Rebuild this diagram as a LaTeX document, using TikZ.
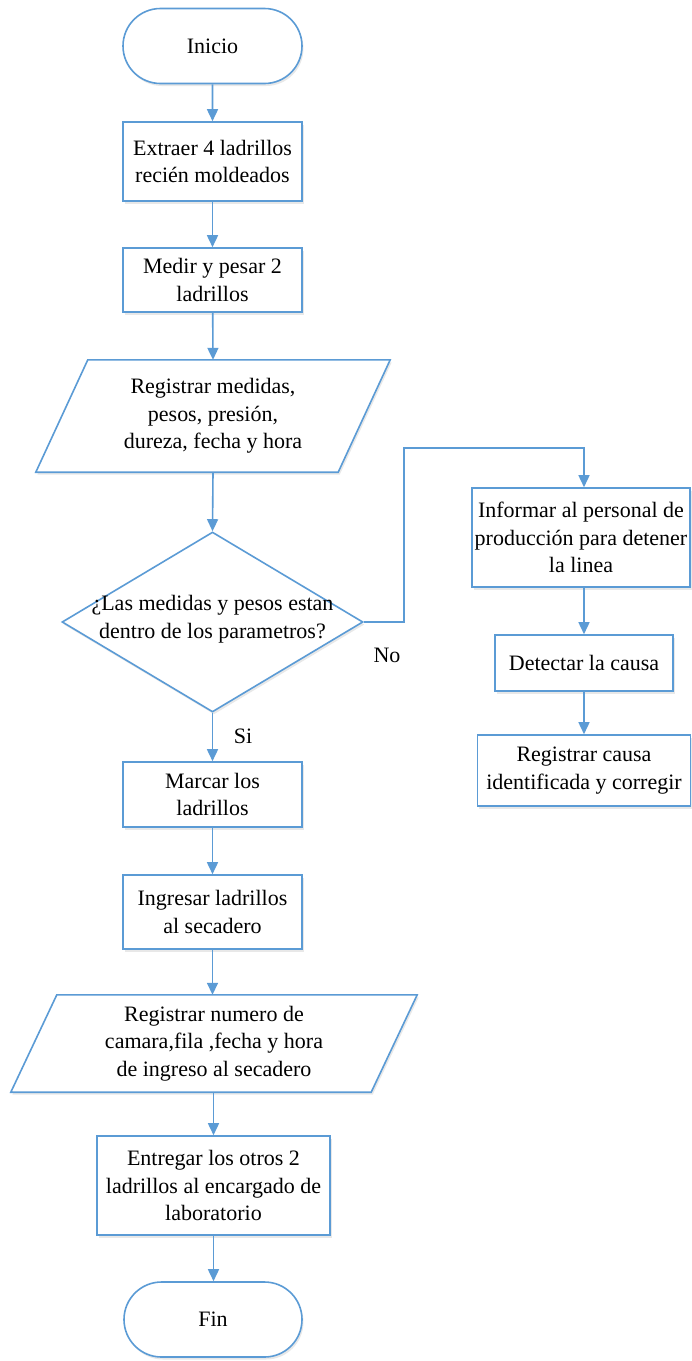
\documentclass[tikz,border=0pt]{standalone}
\usepackage{fontspec}
\setmainfont{Liberation Serif}
\usetikzlibrary{arrows.meta,shapes.geometric,shapes.misc,shadows}
\definecolor{flowblue}{HTML}{5B9BD5}
\tikzset{
  soft shadow/.style={drop shadow={shadow xshift=1.5pt,shadow yshift=-2.5pt,opacity=0.18,fill=gray}},
  terminal/.style={rounded rectangle,draw=flowblue,line width=1.6pt,fill=white,soft shadow,
    inner sep=0pt,align=center},
  procbox/.style={rectangle,draw=flowblue,line width=1.6pt,fill=white,soft shadow,
    inner sep=0pt,align=center},
  iobox/.style={rectangle,inner sep=0pt,align=center},
  iooutline/.style={draw=flowblue,line width=1.6pt,fill=white,soft shadow,line join=miter},
  decision/.style={diamond,draw=flowblue,line width=1.6pt,fill=white,soft shadow,inner sep=0pt},
  flow/.style={draw=flowblue,line width=1.6pt,-{Triangle[length=12pt,width=11pt]}},
  lbl/.style={inner sep=0pt}
}
\begin{document}
\begin{tikzpicture}[x=1pt,y=-1pt,font=\fontsize{22}{27.5}\selectfont]
\useasboundingbox (0,0) rectangle (692,1361);

% main column
\node[terminal,minimum width=179pt,minimum height=75pt] (ini) at (212.5,46) {Inicio};
\node[procbox,minimum width=179pt,minimum height=79pt] (ext) at (212.5,161.5)
  {Extraer 4 ladrillos\\recién moldeados};
\node[procbox,minimum width=179pt,minimum height=64pt] (med) at (212.5,280)
  {Medir y pesar 2\\ladrillos};

% data record 1 (parallelogram outline around a plain node)
\node[iobox,minimum width=302pt,minimum height=112pt] (reg1) at (213,416) {};
\path[iooutline] ([xshift=26pt]reg1.north west) -- ([xshift=26pt]reg1.north east)
  -- ([xshift=-26pt]reg1.south east) -- ([xshift=-26pt]reg1.south west) -- cycle;
\node[lbl,align=center] (reg1t) at (reg1.center)
  {Registrar medidas,\\pesos, presión,\\dureza, fecha y hora};

% decision
\node[decision,minimum width=301pt,minimum height=180pt] (dec) at (212.5,622) {};
\node[lbl,align=center] (dect) at ([yshift=3pt]dec.center)
  {¿Las medidas y pesos estan\\dentro de los parametros?};

\node[procbox,minimum width=179pt,minimum height=65pt] (mar) at (212.5,794.5)
  {Marcar los\\ladrillos};
\node[procbox,minimum width=179pt,minimum height=74pt] (ing) at (212.5,912)
  {Ingresar ladrillos\\al secadero};

% data record 2
\node[iobox,minimum width=360pt,minimum height=97pt] (reg2) at (214,1043.5) {};
\path[iooutline] ([xshift=23pt]reg2.north west) -- ([xshift=23pt]reg2.north east)
  -- ([xshift=-23pt]reg2.south east) -- ([xshift=-23pt]reg2.south west) -- cycle;
\node[lbl,align=center] (reg2t) at (reg2.center)
  {Registrar numero de\\camara,fila ,fecha y hora\\de ingreso al secadero};

\node[procbox,minimum width=233pt,minimum height=99pt] (ent) at (213.5,1185.5)
  {Entregar los otros 2\\ladrillos al encargado de\\laboratorio};
\node[terminal,minimum width=178pt,minimum height=75pt] (fin) at (213,1319.5) {Fin};

% side branch
\node[procbox,minimum width=218pt,minimum height=99pt] (inf) at (581,537.5)
  {Informar al personal de\\producción para detener\\la linea};
\node[procbox,minimum width=178pt,minimum height=56pt] (det) at (584,663)
  {Detectar la causa};
\node[procbox,minimum width=213pt,minimum height=71pt] (cau) at (584,770.5)
  {Registrar causa\\identificada y corregir};

% labels
\node[lbl] (si) at (243,736) {Si};
\node[lbl] (no) at (387,655) {No};

% connectors
\coordinate (nobend) at (404,448);
\draw[flow] (ini) -- (ext);
\draw[flow] (ext) -- (med);
\draw[flow] (med) -- (reg1.north);
\draw[flow] (reg1.south) -- (dec.north);
\draw[flow] (dec.south) -- (mar.north);
\draw[flow] (mar) -- (ing);
\draw[flow] (ing.south) -- (ing.south |- reg2.north);
\draw[flow] (ent.north |- reg2.south) -- (ent.north);
\draw[flow] (ent.south) -- (fin.north -| ent.south);
\draw[flow,line join=miter] (dec.east) -| (nobend) -| ([xshift=3pt]inf.north);
\draw[flow] ([xshift=3pt]inf.south) -- (det.north);
\draw[flow] (det) -- (cau);
\end{tikzpicture}
\end{document}
